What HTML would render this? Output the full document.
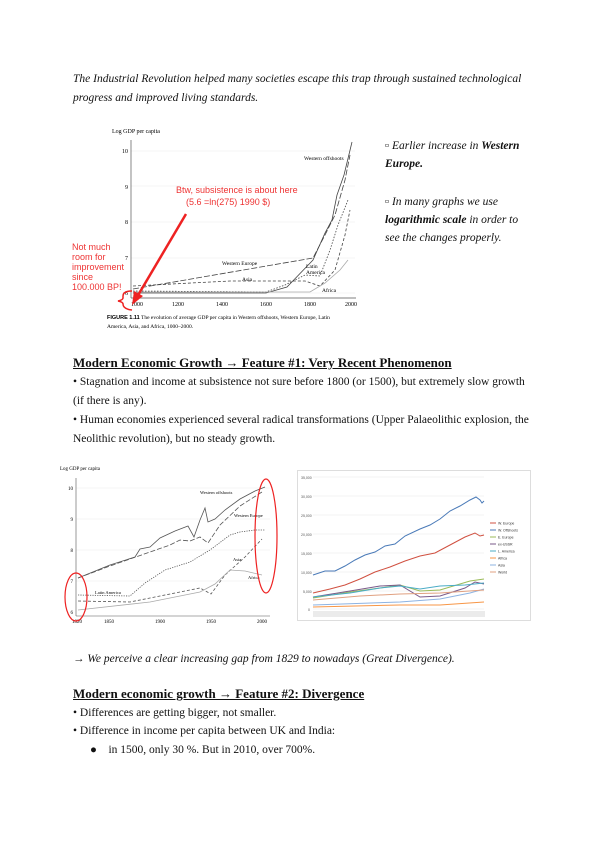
<!DOCTYPE html>
<html><head><meta charset="utf-8"><style>
body{margin:0;background:#fff;width:600px;height:848px;position:relative;overflow:hidden;font-family:"Liberation Serif",serif;color:#111}
.t{position:absolute;white-space:nowrap;font-size:11.5px}
.i{font-style:italic}
.h{font-weight:bold;text-decoration:underline;font-size:13px}
svg{position:absolute;left:0;top:0}
</style></head><body>
<div class="t i" style="left:73px;top:73px">The Industrial Revolution helped many societies escape this trap through sustained technological</div>
<div class="t i" style="left:73px;top:92px">progress and improved living standards.</div>

<div class="t i" style="left:385px;top:140px">▫ Earlier increase in <b>Western</b></div>
<div class="t i" style="left:385px;top:158px"><b>Europe.</b></div>
<div class="t i" style="left:385px;top:196px">▫ In many graphs we use</div>
<div class="t i" style="left:385px;top:214px"><b>logarithmic scale</b> in order to</div>
<div class="t i" style="left:385px;top:232px">see the changes properly.</div>

<div class="t h" style="left:73px;top:355px">Modern Economic Growth → Feature #1: Very Recent Phenomenon</div>
<div class="t" style="left:73px;top:376px">• Stagnation and income at subsistence not sure before 1800 (or 1500), but extremely slow growth</div>
<div class="t" style="left:73px;top:395px">(if there is any).</div>
<div class="t" style="left:73px;top:414px">• Human economies experienced several radical transformations (Upper Palaeolithic explosion, the</div>
<div class="t" style="left:73px;top:433px">Neolithic revolution), but no steady growth.</div>

<div class="t i" style="left:73px;top:653px">→ We perceive a clear increasing gap from 1829 to nowadays (Great Divergence).</div>
<div class="t h" style="left:73px;top:686px">Modern economic growth → Feature #2: Divergence</div>
<div class="t" style="left:73px;top:707px">• Differences are getting bigger, not smaller.</div>
<div class="t" style="left:73px;top:725px">• Difference in income per capita between UK and India:</div>
<div class="t" style="left:90px;top:744px">●&nbsp;&nbsp;&nbsp;&nbsp;in 1500, only 30 %. But in 2010, over 700%.</div>

<svg width="600" height="848" font-family="Liberation Serif, serif">
<!-- Chart 1 -->
<text x="112" y="133" font-size="6">Log GDP per capita</text>
<g stroke="#eee" stroke-width="0.6"><line x1="131" y1="151" x2="355" y2="151"/><line x1="131" y1="186" x2="355" y2="186"/><line x1="131" y1="222" x2="355" y2="222"/><line x1="131" y1="258" x2="355" y2="258"/><line x1="131" y1="293" x2="355" y2="293"/></g>
<line x1="131" y1="140" x2="131" y2="298" stroke="#555" stroke-width="0.7"/>
<line x1="131" y1="298" x2="356" y2="298" stroke="#555" stroke-width="0.7"/>
<g font-size="6" text-anchor="end"><text x="128" y="153">10</text><text x="128" y="189">9</text><text x="128" y="224">8</text><text x="128" y="260">7</text><text x="128" y="295">6</text></g>
<g font-size="6" text-anchor="middle"><text x="137" y="306">1000</text><text x="178" y="306">1200</text><text x="222" y="306">1400</text><text x="266" y="306">1600</text><text x="310" y="306">1800</text><text x="351" y="306">2000</text></g>
<g fill="none" stroke="#444" stroke-width="0.8">
<path d="M133 293 L266 293 L287 287 L313 260 L325 233 L332 220 L337 195 L344 175 L352 142"/>
<path d="M133 289 L313 258 L325 235 L335 215 L345 180 L350 155" stroke-dasharray="6 2"/>
<path d="M133 291 L266 292 L285 285 L305 275 L320 276 L330 250 L338 225 L348 200" stroke-dasharray="1.5 1.5"/>
<path d="M133 286 L230 281 L305 281 L320 286 L335 270 L345 235 L350 210" stroke-dasharray="3 2"/>
<path d="M133 292 L310 292 L325 283 L340 270 L348 260" stroke="#aaa"/>
</g>
<g font-size="5.5"><text x="304" y="160">Western offshoots</text><text x="222" y="265">Western Europe</text><text x="242" y="281">Asia</text><text x="306" y="268">Latin</text><text x="306" y="274">America</text><text x="322" y="292">Africa</text></g>
<text x="176" y="193" font-size="9" fill="#e33" font-family="Liberation Sans, sans-serif">Btw, subsistence is about here</text>
<text x="186" y="205" font-size="9" fill="#e33" font-family="Liberation Sans, sans-serif">(5.6 =ln(275) 1990 $)</text>
<line x1="186" y1="214" x2="137" y2="297" stroke="#e22" stroke-width="2.5"/>
<polygon points="132,305 134,291 143,296" fill="#e22"/>
<g font-size="9" fill="#e33" font-family="Liberation Sans, sans-serif"><text x="72" y="250">Not much</text><text x="72" y="260">room for</text><text x="72" y="270">improvement</text><text x="72" y="280">since</text><text x="72" y="290">100.000 BP!</text></g>
<path d="M132 291 Q123 291 123 296 L123 298 Q123 300 118 301 Q123 302 123 304 Q123 309 132 310" fill="none" stroke="#e22" stroke-width="1.5"/>
<text x="107" y="319" font-size="5.5"><tspan font-weight="bold" font-family="Liberation Sans, sans-serif">FIGURE 1.11</tspan>   The evolution of average GDP per capita in Western offshoots, Western Europe, Latin</text>
<text x="107" y="328" font-size="5.5">America, Asia, and Africa, 1000–2000.</text>

<!-- Chart 2 -->
<text x="60" y="470" font-size="5">Log GDP per capita</text>
<g stroke="#eee" stroke-width="0.6"><line x1="76" y1="488" x2="270" y2="488"/><line x1="76" y1="519" x2="270" y2="519"/><line x1="76" y1="550" x2="270" y2="550"/><line x1="76" y1="581" x2="270" y2="581"/></g>
<line x1="76" y1="478" x2="76" y2="616" stroke="#555" stroke-width="0.6"/>
<line x1="76" y1="616" x2="270" y2="616" stroke="#555" stroke-width="0.6"/>
<g font-size="5" text-anchor="end"><text x="73" y="490">10</text><text x="73" y="521">9</text><text x="73" y="552">8</text><text x="73" y="583">7</text><text x="73" y="614">6</text></g>
<g font-size="5" text-anchor="middle"><text x="77" y="623">1820</text><text x="109" y="623">1850</text><text x="160" y="623">1900</text><text x="211" y="623">1950</text><text x="262" y="623">2000</text></g>
<g fill="none" stroke="#555" stroke-width="0.8">
<path d="M78 578 L110 565 L135 557 L140 549 L150 547 L160 538 L175 531 L188 526 L194 537 L200 520 L205 508 L208 522 L215 519 L225 510 L240 499 L255 491 L265 487"/>
<path d="M78 578 L110 566 L150 552 L170 545 L180 540 L190 541 L200 537 L208 543 L220 525 L240 506 L262 492" stroke-dasharray="5 2"/>
<path d="M78 595 L130 596 L145 583 L165 570 L190 562 L210 550 L230 535 L240 532 L255 530 L265 530" stroke-dasharray="1.2 1.2"/>
<path d="M78 601 L130 602 L160 596 L200 588 L211 594 L225 575 L245 557 L262 539" stroke-dasharray="3 2"/>
<path d="M78 610 L150 602 L200 592 L215 584 L230 570 L245 571 L262 575" stroke="#aaa"/>
</g>
<g font-size="4.5"><text x="200" y="494">Western offshoots</text><text x="234" y="517">Western Europe</text><text x="233" y="561">Asia</text><text x="248" y="579">Africa</text><text x="95" y="594">Latin America</text></g>
<ellipse cx="266" cy="536" rx="11" ry="57" fill="none" stroke="#e22" stroke-width="1.2"/>
<ellipse cx="76" cy="597" rx="11" ry="24" fill="none" stroke="#e22" stroke-width="1.2"/>

<!-- Chart 3 -->
<rect x="297.5" y="470.5" width="233" height="150" fill="#fff" stroke="#ddd"/>
<g stroke="#e8e8e8" stroke-width="0.6"><line x1="313" y1="477" x2="484" y2="477"/><line x1="313" y1="496" x2="484" y2="496"/><line x1="313" y1="515" x2="484" y2="515"/><line x1="313" y1="534" x2="484" y2="534"/><line x1="313" y1="553" x2="484" y2="553"/><line x1="313" y1="572" x2="484" y2="572"/><line x1="313" y1="591" x2="484" y2="591"/><line x1="313" y1="609" x2="484" y2="609"/></g>
<g font-size="3.5" font-family="Liberation Sans, sans-serif" fill="#555"><text x="301" y="479">35,000</text><text x="301" y="498">30,000</text><text x="301" y="517">25,000</text><text x="301" y="536">20,000</text><text x="301" y="555">15,000</text><text x="301" y="574">10,000</text><text x="303" y="593">5,000</text><text x="308" y="611">0</text></g>
<rect x="313" y="611" width="172" height="6" fill="#ddd" opacity="0.6"/>
<g fill="none" stroke-width="1">
<path d="M313 575 L325 571 L335 571 L345 566 L355 560 L365 555 L375 552 L385 546 L395 544 L405 536 L420 529 L430 525 L440 519 L450 511 L460 506 L470 500 L476 497 L480 500 L482 503 L484 501" stroke="#4a7ab8"/>
<path d="M313 593 L330 589 L345 585 L360 579 L375 572 L390 567 L405 561 L420 556 L435 553 L450 545 L465 537 L475 533 L480 536 L484 535" stroke="#d05040"/>
<path d="M313 598 L350 592 L380 588 L400 585 L420 591 L440 590 L470 581 L484 579" stroke="#9bbb59"/>
<path d="M313 597 L350 591 L380 586 L400 585 L420 597 L440 596 L465 588 L475 582 L484 584" stroke="#7a5a8a"/>
<path d="M313 597 L350 593 L380 588 L400 586 L420 589 L440 586 L465 585 L484 583" stroke="#4bacc6"/>
<path d="M313 605 L400 602 L440 599 L470 593 L484 589" stroke="#8db3e2"/>
<path d="M313 607 L400 605 L440 605 L484 602" stroke="#f79646"/>
<path d="M313 600 L360 596 L400 594 L440 593 L484 590" stroke="#e0a080"/>
</g>
<g font-size="3.5" font-family="Liberation Sans, sans-serif" fill="#333">
<line x1="490" y1="523" x2="496" y2="523" stroke="#d05040"/><text x="498" y="524.5">W. Europe</text>
<line x1="490" y1="530" x2="496" y2="530" stroke="#4a7ab8"/><text x="498" y="531.5">W. Offshoots</text>
<line x1="490" y1="537" x2="496" y2="537" stroke="#9bbb59"/><text x="498" y="538.5">E. Europe</text>
<line x1="490" y1="544" x2="496" y2="544" stroke="#7a5a8a"/><text x="498" y="545.5">ex-USSR</text>
<line x1="490" y1="551" x2="496" y2="551" stroke="#4bacc6"/><text x="498" y="552.5">L. America</text>
<line x1="490" y1="558" x2="496" y2="558" stroke="#f79646"/><text x="498" y="559.5">Africa</text>
<line x1="490" y1="565" x2="496" y2="565" stroke="#8db3e2"/><text x="498" y="566.5">Asia</text>
<line x1="490" y1="572" x2="496" y2="572" stroke="#e0a080"/><text x="498" y="573.5">World</text>
</g>
</svg>
</body></html>
